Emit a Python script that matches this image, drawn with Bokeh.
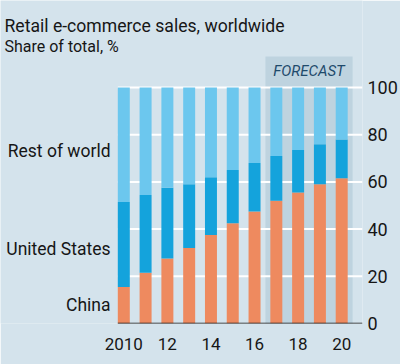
from bokeh.plotting import figure
from bokeh.models import Label, FixedTicker, LinearAxis, Range1d
from bokeh.embed import file_html
from bokeh.resources import INLINE

# ---- data ----
years = [2010, 2011, 2012, 2013, 2014, 2015, 2016, 2017, 2018, 2019, 2020]
china = [15.5, 21.5, 27.5, 32.0, 37.5, 42.5, 47.5, 52.0, 55.5, 59.0, 61.5]
united_states = [36.0, 33.0, 30.0, 27.0, 24.5, 22.5, 20.5, 19.0, 18.0, 17.0, 16.5]
rest_of_world = [48.5, 45.5, 42.5, 41.0, 38.0, 35.0, 32.0, 29.0, 26.5, 24.0, 22.0]
series_names = ["China", "United States", "Rest of world"]
x_tick_values = [2010, 2012, 2014, 2016, 2018, 2020]
x_tick_labels = ["2010", "12", "14", "16", "18", "20"]
y_tick_values = [0, 20, 40, 60, 80, 100]
forecast_start = 2016.5
forecast_end = 2020.5
title_text = "Retail e-commerce sales, worldwide"
subtitle_text = "Share of total, %"
forecast_text = "FORECAST"

# ---- style / layout ----
BG = "#d4e3ec"
SHADE = "#bed3df"
C_CHINA = "#ee8a5f"
C_US = "#14a3dc"
C_ROW = "#6cc7ee"
TXT = "#161616"
FONT = "Roboto"

W, H = 400, 364
FRAME_W, FRAME_H = 362, 323
PX_X = 21.79         # pixels per year
PX_Y = 2.36          # pixels per percentage point
X_2010_PX = 123.3    # pixel position of 2010 bar centre
BAR_W = 0.55

X0 = 2010 - X_2010_PX / PX_X
X1 = X0 + FRAME_W / PX_X
Y0 = 0
Y1 = FRAME_H / PX_Y


def fx(px):
    return X0 + px / PX_X


def fy(px):  # px measured from top
    return (FRAME_H - px) / PX_Y


series_label_px = [304, 248, 150]

p = figure(width=W, height=H, output_backend="svg", toolbar_location=None,
           x_range=Range1d(X0, X1), y_range=Range1d(Y0, Y1),
           min_border_left=0, min_border_top=0,
           min_border_right=W - FRAME_W, min_border_bottom=H - FRAME_H,
           y_axis_location=None)
p.background_fill_color = BG
p.border_fill_color = BG
p.outline_line_color = None
p.xgrid.visible = False
p.ygrid.visible = False

plot_left = years[0] - BAR_W / 2
shade_top = fy(56)

# forecast shading (below grid lines)
sh = p.quad(left=[forecast_start], right=[forecast_end], bottom=[Y0], top=[shade_top],
            fill_color=SHADE, line_color=None)
sh.level = "image"

# grid lines
grid_y = y_tick_values[1:]
gl = p.segment(x0=[plot_left] * len(grid_y), x1=[X1] * len(grid_y), y0=grid_y, y1=grid_y,
               line_color="white", line_width=2)
gl.level = "underlay"

data = dict(year=years, china=china, us=united_states, row=rest_of_world)
p.vbar_stack(["china", "us", "row"], x="year", width=BAR_W, source=data,
             color=[C_CHINA, C_US, C_ROW], line_color=None)

# baseline
p.segment(x0=[plot_left], x1=[X1], y0=[0], y1=[0], line_color=TXT, line_width=1.5)

# axes
p.xaxis.ticker = FixedTicker(ticks=x_tick_values)
p.xaxis.major_label_overrides = {v: l for v, l in zip(x_tick_values, x_tick_labels)}
p.xaxis.major_tick_line_color = None
p.xaxis.major_tick_out = 0
p.xaxis.minor_tick_line_color = None
p.xaxis.minor_tick_out = 0
p.xaxis.axis_line_color = None
p.xaxis.major_label_standoff = 14
p.xaxis.major_label_text_font = FONT
p.xaxis.major_label_text_font_size = "17px"
p.xaxis.major_label_text_color = TXT

yax = LinearAxis(ticker=FixedTicker(ticks=y_tick_values))
yax.axis_line_color = None
yax.major_tick_line_color = None
yax.major_tick_out = 0
yax.minor_tick_line_color = None
yax.minor_tick_out = 0
yax.major_label_standoff = 5
yax.major_label_text_font = FONT
yax.major_label_text_font_size = "18px"
yax.major_label_text_color = TXT
p.add_layout(yax, "right")

# titles
p.add_layout(Label(x=fx(4), y=fy(25), text=title_text, text_font=FONT,
                   text_font_size="17.6px", text_color=TXT, text_baseline="alphabetic"))
p.add_layout(Label(x=fx(4), y=fy(46), text=subtitle_text, text_font=FONT,
                   text_font_size="16px", text_color=TXT, text_baseline="alphabetic"))

# series labels
for name, py in zip(series_names, series_label_px):
    p.add_layout(Label(x=fx(110), y=fy(py), text=name, text_font=FONT,
                       text_font_size="17.5px", text_color=TXT,
                       text_align="right", text_baseline="middle"))

p.add_layout(Label(x=(forecast_start + forecast_end) / 2, y=fy(70), text=forecast_text,
                   text_font=FONT, text_font_size="15px", text_font_style="italic",
                   text_color="#1f4a6b", text_align="center", text_baseline="middle"))

open("out.html", "w").write(file_html(p, INLINE))
